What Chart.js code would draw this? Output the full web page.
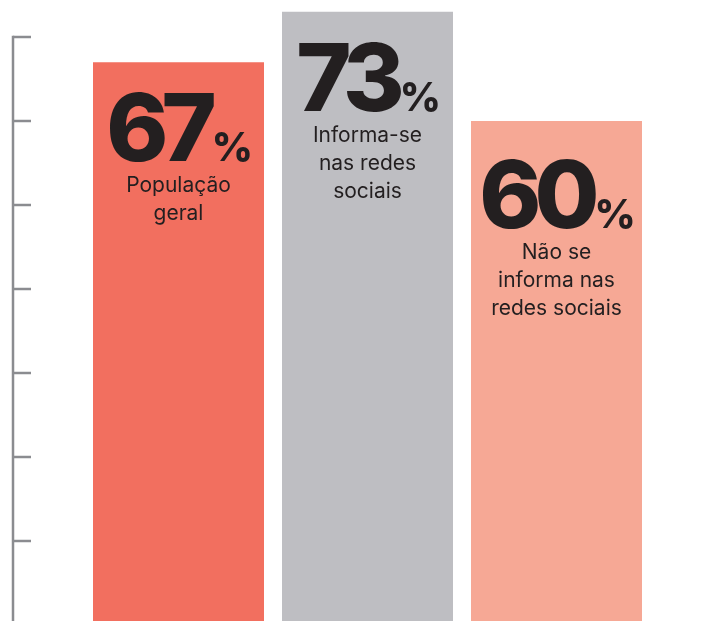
<!DOCTYPE html>
<html>
<head>
<meta charset="utf-8">
<script src="https://cdn.jsdelivr.net/npm/chart.js@4"></script>
<style>
  html, body { margin: 0; padding: 0; background: #fff; overflow: hidden; }
  canvas { display: block; }
</style>
</head>
<body>
<canvas id="shareChart" width="711" height="621"></canvas>
<script>
// ── Data ──
const categories = ['População geral', 'Informa-se nas redes sociais', 'Não se informa nas redes sociais'];
const values     = [67, 73, 60];
const labelLines = [['População', 'geral'], ['Informa-se', 'nas redes', 'sociais'], ['Não se', 'informa nas', 'redes sociais']];
const axisTicks  = [10, 20, 30, 40, 50, 60, 70];

const BAR_COLORS = ['#f26f5f', '#bebec2', '#f6a895'];
const AXIS_COLOR = '#8b8c90';
const TEXT_COLOR = '#231f20';

// per-bar nudge of the printed text, px (reference is not perfectly uniform)
const textNudge = [0, 0, 8];

// ── Left axis with ticks pointing inward ──
const axisPlugin = {
  id: 'axisPlugin',
  afterDraw(chart) {
    const { ctx } = chart;
    const y = chart.scales.y;
    const x0 = 13;
    ctx.save();
    ctx.strokeStyle = AXIS_COLOR;
    ctx.lineWidth = 2.5;
    ctx.beginPath();
    ctx.moveTo(x0, y.getPixelForValue(axisTicks[axisTicks.length - 1]) - 1.25);
    ctx.lineTo(x0, chart.height);
    ctx.stroke();
    axisTicks.forEach(t => {
      const py = Math.round(y.getPixelForValue(t));
      ctx.beginPath();
      ctx.moveTo(x0, py);
      ctx.lineTo(31, py);
      ctx.stroke();
    });
    ctx.restore();
  }
};

// ── Big percentage + caption inside each bar ──
const NUM_FONT = "800 94px 'Inter'";
const PCT_FONT = "800 40px 'Inter'";
const LBL_FONT = "400 21px 'Inter'";

const barTextPlugin = {
  id: 'barTextPlugin',
  afterDatasetsDraw(chart) {
    const { ctx } = chart;
    const meta = chart.getDatasetMeta(0);
    ctx.save();
    ctx.fillStyle = TEXT_COLOR;
    meta.data.forEach((bar, i) => {
      const cx = bar.x;
      const top = bar.y + textNudge[i];
      const num = String(values[i]);

      ctx.font = NUM_FONT;
      ctx.letterSpacing = '-7px';
      const wNum = ctx.measureText(num).width;
      ctx.font = PCT_FONT;
      ctx.letterSpacing = '0px';
      const wPct = ctx.measureText('%').width;
      const start = cx - (wNum + wPct) / 2;
      const base = top + 99;

      ctx.textBaseline = 'alphabetic';
      ctx.textAlign = 'left';
      ctx.font = NUM_FONT;
      ctx.letterSpacing = '-7px';
      ctx.fillText(num, start, base);
      ctx.font = PCT_FONT;
      ctx.letterSpacing = '0px';
      ctx.fillText('%', start + wNum + 2, base);

      ctx.font = LBL_FONT;
      ctx.textAlign = 'center';
      ctx.textBaseline = 'middle';
      labelLines[i].forEach((line, k) => {
        ctx.fillText(line, cx, top + 124 + k * 28);
      });
    });
    ctx.restore();
  }
};

new Chart(document.getElementById('shareChart'), {
  type: 'bar',
  data: {
    labels: categories,
    datasets: [{
      data: values,
      backgroundColor: BAR_COLORS,
      borderWidth: 0,
      categoryPercentage: 1,
      barPercentage: 171 / 189,
    }]
  },
  options: {
    responsive: false,
    animation: false,
    events: [],
    layout: { padding: { left: 84, right: 60, top: 0, bottom: 0 } },
    plugins: { legend: { display: false }, tooltip: { enabled: false } },
    scales: {
      x: { display: false },
      y: { display: false, min: 0.48, max: 74.4 }
    }
  },
  plugins: [axisPlugin, barTextPlugin]
});
</script>
</body>
</html>
